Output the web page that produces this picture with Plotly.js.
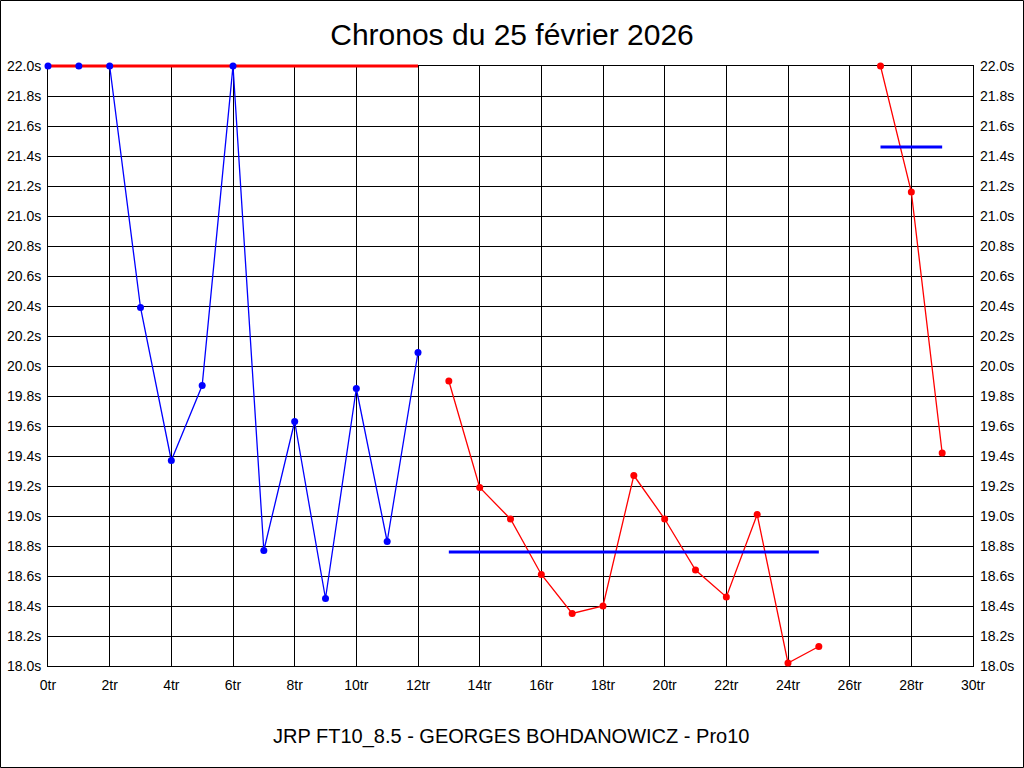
<!DOCTYPE html>
<html>
<head>
<meta charset="utf-8">
<script src="https://cdn.plot.ly/plotly-3.0.1.min.js"></script>
<style>
html,body{margin:0;padding:0;background:#fff;}
#chart{width:1024px;height:768px;}
</style>
</head>
<body>
<div id="chart"></div>
<script>
// Data
const lapsA = [0,1,2,3,4,5,6,7,8,9,10,11,12];
const timesA = [22.0,22.0,22.0,20.39,19.37,19.87,22.0,18.77,19.63,18.45,19.85,18.83,20.09];
const lapsB = [13,14,15,16,17,18,19,20,21,22,23,24,25];
const timesB = [19.90,19.19,18.98,18.61,18.35,18.40,19.27,18.98,18.64,18.46,19.01,18.02,18.13];
const lapsC = [27,28,29];
const timesC = [22.0,21.16,19.42];
const meanLapsA = [0,12];
const meanA = [22.0,22.0];
const meanLapsB = [13,25];
const meanB = [18.76,18.76];
const meanLapsC = [27,29];
const meanC = [21.46,21.46];

const titleText = "Chronos du 25 février 2026";
const subtitleText = "JRP FT10_8.5 - GEORGES BOHDANOWICZ - Pro10";

const BLUE = "rgb(0,0,255)", RED = "rgb(255,0,0)";
const FONT = "Liberation Sans, Arial, sans-serif";

// Geometry: plot area 48..973 x 66..666; an overlay subplot extends 12px higher so the top mean line is not clipped
const T = 54, B = 102, L = 48, R = 51;
const H = 768 - T - B;   // 612
const W = 1024 - L - R;  // 925
const mainH = 600;
const ext = 4 * (H - mainH) / mainH; // extra range for overlay axis

const traces = [
  {x: lapsA, y: timesA, mode: "lines", line: {color: BLUE, width: 1.3}, hoverinfo: "skip"},
  {x: lapsB, y: timesB, mode: "lines+markers", line: {color: RED, width: 1.3}, marker: {color: RED, size: 7}, cliponaxis: false},
  {x: meanLapsB, y: meanB, mode: "lines", line: {color: BLUE, width: 3}, hoverinfo: "skip"},
  {x: lapsC, y: timesC, mode: "lines+markers", line: {color: RED, width: 1.3}, marker: {color: RED, size: 7}, cliponaxis: false},
  {x: meanLapsC, y: meanC, mode: "lines", line: {color: BLUE, width: 3}, hoverinfo: "skip", yaxis: "y2"},
  {x: meanLapsA, y: meanA, mode: "lines", line: {color: RED, width: 3}, hoverinfo: "skip", xaxis: "x2", yaxis: "y3"},
  {x: lapsA, y: timesA, mode: "markers", marker: {color: BLUE, size: 7}, cliponaxis: false, xaxis: "x2", yaxis: "y3"}
];

const layout = {
  width: 1024, height: 768,
  margin: {l: L, r: R, t: T, b: B, pad: 0},
  paper_bgcolor: "#fff", plot_bgcolor: "rgba(0,0,0,0)",
  showlegend: false,
  font: {family: FONT, color: "#000", size: 14},
  title: {text: titleText, font: {family: FONT, size: 30, color: "#000"}, x: 0.5, xanchor: "center", y: 1 - 34/768, yanchor: "middle", yref: "container"},
  xaxis: {
    range: [0, 30], dtick: 2, tick0: 0, ticksuffix: "tr", anchor: "y",
    showgrid: true, gridcolor: "#000", gridwidth: 1, zeroline: false,
    showline: true, linecolor: "#000", linewidth: 1, mirror: true, layer: "below traces",
    ticks: "", ticklabelstandoff: 6, tickfont: {family: FONT, size: 14, color: "#000"}, fixedrange: true
  },
  yaxis: {
    domain: [0, mainH / H],
    range: [18, 22], dtick: 0.2, tick0: 18, tickformat: ".1f", ticksuffix: "s",
    showgrid: true, gridcolor: "#000", gridwidth: 1, zeroline: false,
    showline: true, linecolor: "#000", linewidth: 1, mirror: true, layer: "below traces",
    ticks: "", ticklabelstandoff: 3, tickfont: {family: FONT, size: 14, color: "#000"}, fixedrange: true
  },
  yaxis2: {
    overlaying: "y", side: "right", matches: "y",
    range: [18, 22], dtick: 0.2, tick0: 18, tickformat: ".1f", ticksuffix: "s",
    showgrid: false, zeroline: false, showline: false, layer: "below traces",
    ticks: "", ticklabelstandoff: 6, tickfont: {family: FONT, size: 14, color: "#000"}, fixedrange: true
  },
  xaxis2: {domain: [0, 1], range: [0, 30], anchor: "y3", visible: false, fixedrange: true},
  yaxis3: {domain: [0, 1], range: [18, 22 + ext], anchor: "x2", visible: false, fixedrange: true},
  annotations: [{
    text: subtitleText, xref: "paper", yref: "paper", x: 0.5, y: -70/H,
    xanchor: "center", yanchor: "middle", showarrow: false,
    font: {family: FONT, size: 20, color: "#000"}
  }],
  shapes: [{
    type: "rect", xref: "paper", yref: "paper",
    x0: (0.5 - L)/W, x1: (1023.5 - L)/W,
    y0: (T + H - 767.5)/H, y1: (T + H - 0.5)/H,
    line: {color: "#000", width: 1}, fillcolor: "rgba(0,0,0,0)", layer: "above"
  }]
};

Plotly.newPlot("chart", traces, layout, {displayModeBar: false, staticPlot: true});
</script>
</body>
</html>
